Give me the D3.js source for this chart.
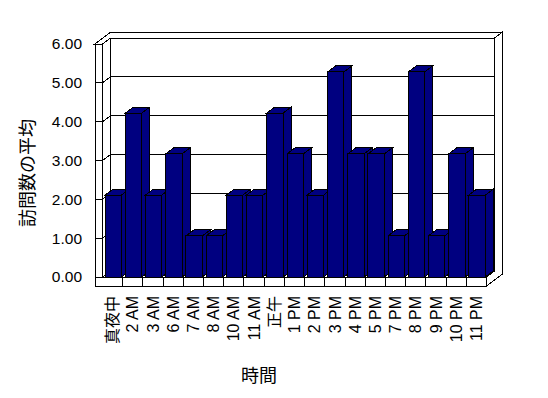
<!DOCTYPE html>
<html>
<head>
<meta charset="utf-8">
<script src="https://cdn.jsdelivr.net/npm/d3@7"></script>
<style>
  html, body { margin: 0; padding: 0; background: #fff; }
  svg { display: block; }
  text { font-family: "Liberation Sans", "Noto Sans CJK JP", sans-serif; fill: #000; }
</style>
</head>
<body>
<svg id="chart" width="548" height="398"></svg>
<script>
const categories = ["真夜中","2 AM","3 AM","6 AM","7 AM","8 AM","10 AM","11 AM","正午","1 PM","2 PM","3 PM","4 PM","5 PM","7 PM","8 PM","9 PM","10 PM","11 PM"];
const values = [2.11,4.22,2.11,3.17,1.06,1.06,2.11,2.11,4.22,3.17,2.11,5.28,3.17,3.17,1.06,5.28,1.06,3.17,2.11];
const yTicks = [0,1,2,3,4,5,6];
const yTitle = "訪問数の平均";
const xTitle = "時間";

const svg = d3.select("#chart");
const DX = 8, DY = -6;           // depth offset per depth unit
const wallL = 95, plotL = 102.5, plotR = 486.5;
const floorT = 277, floorB = 286;

const x = d3.scaleBand().domain(categories).range([plotL, plotR]).paddingInner(0).paddingOuter(0);
const y = d3.scaleLinear().domain([0, 6]).range([floorT, 44]);
const yTop = y(6);

const P = (px, py, z) => [px + DX * z, py + DY * z];
const poly = pts => pts.map(p => p.join(",")).join(" ");

const g = svg.append("g").attr("shape-rendering", "crispEdges");
const wallStyle = s => s.attr("fill", "#fff").attr("stroke", "#000").attr("stroke-width", 1);

// back wall inner face
g.append("polygon").attr("points", poly([P(plotL, yTop, 1), P(plotR, yTop, 1), P(plotR, floorT, 1), P(plotL, floorT, 1)])).call(wallStyle);
// left wall inner face
g.append("polygon").attr("points", poly([P(plotL, yTop, 0), P(plotL, yTop, 1), P(plotL, floorT, 1), P(plotL, floorT, 0)])).call(wallStyle);
// floor top
g.append("polygon").attr("points", poly([P(plotL, floorT, 0), P(plotR, floorT, 0), P(plotR, floorT, 1), P(plotL, floorT, 1)])).call(wallStyle);
// top face of walls
g.append("polygon").attr("points", poly([P(wallL, yTop, 0), P(plotL, yTop, 0), P(plotL, yTop, 1), P(plotR, yTop, 1), P(plotR, yTop, 2), P(wallL, yTop, 2)])).call(wallStyle);
// right face
g.append("polygon").attr("points", poly([P(plotR, floorT, 0), P(plotR, floorT, 1), P(plotR, yTop, 1), P(plotR, yTop, 2), P(plotR, floorB, 2), P(plotR, floorB, 0)])).call(wallStyle);
// front face (left wall + floor)
g.append("polygon").attr("points", poly([[wallL, yTop], [plotL, yTop], [plotL, floorT], [plotR, floorT], [plotR, floorB], [wallL, floorB]])).call(wallStyle);

// gridlines
const grid = g.append("g").attr("stroke", "#000").attr("stroke-width", 1).attr("fill", "none");
yTicks.forEach(v => {
  const yy = y(v);
  grid.append("line").attr("x1", wallL).attr("y1", yy).attr("x2", plotL).attr("y2", yy);
  const a = P(plotL, yy, 0), b = P(plotL, yy, 1), c = P(plotR, yy, 1);
  grid.append("line").attr("x1", a[0]).attr("y1", a[1]).attr("x2", b[0]).attr("y2", b[1]);
  grid.append("line").attr("x1", b[0]).attr("y1", b[1]).attr("x2", c[0]).attr("y2", c[1]);
});

// category tick marks on floor front
categories.slice(1).forEach(c => {
  grid.append("line").attr("x1", x(c)).attr("y1", floorT).attr("x2", x(c)).attr("y2", floorB);
});

// bars
const bw = x.bandwidth();
const bars = g.append("g").attr("fill", "#000080").attr("stroke", "#000").attr("stroke-width", 1);
categories.forEach((c, i) => {
  const x0 = x(c) + bw * 0.13, w = bw * 0.81;
  const yt = y(values[i]), yb = floorT;
  bars.append("polygon").attr("points", poly([[x0 + w, yt], P(x0 + w, yt, 1), P(x0 + w, yb, 1), [x0 + w, yb]]));
  bars.append("polygon").attr("points", poly([[x0, yt], P(x0, yt, 1), P(x0 + w, yt, 1), [x0 + w, yt]]));
  bars.append("rect").attr("x", x0).attr("y", yt).attr("width", w).attr("height", yb - yt);
});

// y axis labels
const yAxis = svg.append("g").attr("transform", `translate(${wallL},0)`)
  .call(d3.axisLeft(y).tickValues(yTicks).tickFormat(d3.format(".2f")).tickSize(0).tickPadding(13));
yAxis.select(".domain").remove();
yAxis.selectAll("text").attr("font-size", 15.5).attr("fill", "#000")
  .attr("font-family", "Liberation Sans, Noto Sans CJK JP");

// x axis labels
const xAxis = svg.append("g").attr("transform", `translate(0,${floorB})`)
  .call(d3.axisBottom(x).tickSize(0));
xAxis.select(".domain").remove();
xAxis.selectAll("text")
  .attr("font-size", 16)
  .attr("fill", "#000")
  .attr("font-family", "Liberation Sans, Noto Sans CJK JP")
  .attr("transform", "rotate(-90)")
  .attr("text-anchor", "end")
  .attr("x", -10)
  .attr("y", 0)
  .attr("dy", "0.35em");

// titles
svg.append("text").attr("transform", "translate(28,173) rotate(-90)")
  .attr("text-anchor", "middle").attr("dominant-baseline", "central")
  .attr("font-size", 18).text(yTitle);
svg.append("text").attr("x", 259).attr("y", 376)
  .attr("text-anchor", "middle").attr("dominant-baseline", "central")
  .attr("font-size", 18).text(xTitle);
</script>
</body>
</html>
